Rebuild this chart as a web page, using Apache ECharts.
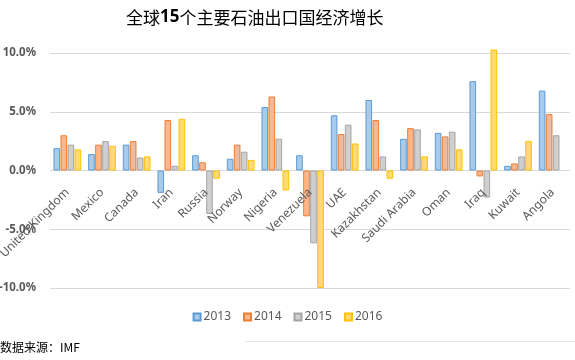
<!DOCTYPE html>
<html><head><meta charset="utf-8">
<script src="https://cdn.jsdelivr.net/npm/echarts@6/dist/echarts.min.js"></script>
<style>html,body{margin:0;padding:0;background:#fff}#c{width:575px;height:360px}</style>
</head><body><div id="c"></div>
<script>
var categories = ['United Kingdom','Mexico','Canada','Iran','Russia','Norway','Nigeria','Venezuela','UAE','Kazakhstan','Saudi Arabia','Oman','Iraq','Kuwait','Angola'];
var s2013 = [1.9, 1.4, 2.2, -1.9, 1.3, 1.0, 5.4, 1.3, 4.7, 6.0, 2.7, 3.2, 7.6, 0.4, 6.8];
var s2014 = [3.0, 2.2, 2.5, 4.3, 0.7, 2.2, 6.3, -3.9, 3.1, 4.3, 3.6, 2.9, -0.5, 0.6, 4.8];
var s2015 = [2.2, 2.5, 1.1, 0.4, -3.7, 1.6, 2.7, -6.2, 3.9, 1.2, 3.5, 3.3, -2.3, 1.2, 3.0];
var s2016 = [1.8, 2.1, 1.2, 4.4, -0.7, 0.9, -1.7, -10.0, 2.3, -0.7, 1.2, 1.8, 10.3, 2.5, null];
var seriesNames = ['2013','2014','2015','2016'];
var yTicks = [-10, -5, 0, 5, 10];

var fills = ['#a9cbeb','#f6b893','#cfcfcf','#ffdb78'];
var borders = ['#5b9bd5','#ed7d31','#a5a5a5','#ffc000'];
var data = [s2013, s2014, s2015, s2016];

var gridTop = 53, gridBottom = 72, H = 360;
var plotH = H - gridTop - gridBottom;
var zeroOffset = -plotH / 2; // zero is at the middle of the -10..10 range

var chart = echarts.init(document.getElementById('c'), null, {renderer:'canvas'});
chart.setOption({
  animation: false,
  backgroundColor: '#fff',
  title: {
    text: '全球{b|15}个主要石油出口国经济增长',
    left: 121, top: 4,
    textStyle: {fontFamily: 'Noto Sans CJK SC', fontSize: 17, fontWeight: 'normal', color: '#000',
      rich: {b: {fontFamily: 'Noto Sans', fontSize: 17, fontWeight: 'bold', color: '#000'}}}
  },
  legend: {
    data: seriesNames, bottom: 32, left: 'center', itemWidth: 7, itemHeight: 7, itemGap: 12,
    icon: 'rect',
    textStyle: {fontFamily: 'Noto Sans', fontSize: 12, color: '#595959', padding: [0,0,0,-2]}
  },
  grid: {left: 50, right: 5, top: gridTop, bottom: gridBottom, outerBoundsMode: 'none', containLabel: false},
  xAxis: {
    type: 'category', data: categories, position: 'bottom', offset: zeroOffset, z: 5,
    axisLine: {show: false, onZero: false},
    axisTick: {show: false},
    axisLabel: {rotate: 45, interval: 0, margin: 20, fontFamily: 'Noto Sans', fontSize: 12, color: '#595959'}
  },
  yAxis: {
    type: 'value', min: -10, max: 10, interval: 5,
    axisLine: {show: false}, axisTick: {show: false},
    splitLine: {lineStyle: {color: '#d9d9d9'}},
    axisLabel: {formatter: function(v){return v.toFixed(1)+'%';}, fontFamily: 'Noto Sans', fontWeight: 'bold', fontSize: 11.5, color: '#595959', margin: 14,
      customValues: yTicks}
  },
  graphic: [
    {type: 'text', left: 0, top: 341, style: {text: '数据来源：IMF', fontFamily: 'Noto Sans CJK SC', fontSize: 12, fill: '#000'}},
    {type: 'line', shape: {x1: 245, y1: 341.5, x2: 575, y2: 341.5}, style: {stroke: '#e6e6e6', lineWidth: 1}}
  ],
  series: seriesNames.map(function(n, i){
    return {
      name: n, type: 'bar', data: data[i], clip: false,
      barGap: '6%', barCategoryGap: '20%',
      itemStyle: {color: fills[i], borderColor: borders[i], borderWidth: 1}
    };
  })
});
</script></body></html>
